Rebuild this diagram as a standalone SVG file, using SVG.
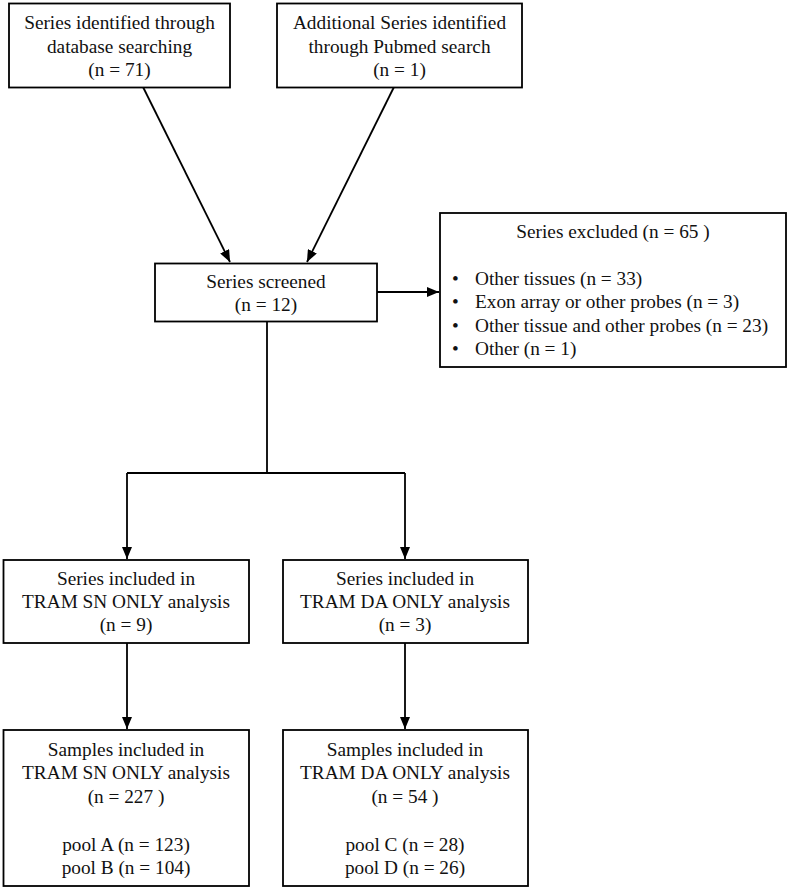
<svg xmlns="http://www.w3.org/2000/svg" width="789" height="889" viewBox="0 0 789 889">
<style>
.box{fill:#fff;stroke:#000;stroke-width:1.8}
.t{font-family:'Liberation Serif','Tinos','Times New Roman','DejaVu Serif',serif;font-size:19.3px;fill:#111;text-anchor:middle}
.l{text-anchor:start}
.c{fill:none;stroke:#000;stroke-width:1.8}
</style>
<defs>
<marker id="ah" markerUnits="userSpaceOnUse" markerWidth="12" markerHeight="10" refX="12" refY="5" orient="auto">
<path d="M0,0 L12,5 L0,10 z" fill="#000"/>
</marker>
</defs>
<rect width="789" height="889" fill="#fff"/>
<g id="connectors">
<line class="c" x1="143" y1="87" x2="230" y2="262" marker-end="url(#ah)"/>
<line class="c" x1="394" y1="87" x2="307" y2="262" marker-end="url(#ah)"/>
<line class="c" x1="377" y1="292" x2="439" y2="292" marker-end="url(#ah)"/>
<polyline class="c" points="267,322 267,473"/>
<polyline class="c" points="127,473 405,473"/>
<line class="c" x1="127" y1="473" x2="127" y2="559" marker-end="url(#ah)"/>
<line class="c" x1="405" y1="473" x2="405" y2="559" marker-end="url(#ah)"/>
<line class="c" x1="127" y1="643" x2="127" y2="729" marker-end="url(#ah)"/>
<line class="c" x1="405" y1="643" x2="405" y2="729" marker-end="url(#ah)"/>
</g>
<g id="db">
<rect class="box" x="9" y="3.5" width="221" height="84"/>
<text class="t" x="119.5" y="29">Series identified through</text>
<text class="t" x="119.5" y="53">database searching</text>
<text class="t" x="119.5" y="76">(n = 71)</text>
</g>
<g id="pubmed">
<rect class="box" x="277" y="3.5" width="245" height="84"/>
<text class="t" x="399.5" y="29">Additional Series identified</text>
<text class="t" x="399.5" y="53">through Pubmed search</text>
<text class="t" x="399.5" y="76">(n = 1)</text>
</g>
<g id="screened">
<rect class="box" x="155" y="263.5" width="222" height="58"/>
<text class="t" x="266" y="288">Series screened</text>
<text class="t" x="266" y="311">(n = 12)</text>
</g>
<g id="excluded">
<rect class="box" x="440" y="213" width="346" height="154"/>
<text class="t" x="613" y="238">Series excluded (n = 65 )</text>
<text class="t l" x="452" y="285">•</text>
<text class="t l" x="475" y="285">Other tissues (n = 33)</text>
<text class="t l" x="452" y="308">•</text>
<text class="t l" x="475" y="308">Exon array or other probes (n = 3)</text>
<text class="t l" x="452" y="332">•</text>
<text class="t l" x="475" y="332">Other tissue and other probes (n = 23)</text>
<text class="t l" x="452" y="355">•</text>
<text class="t l" x="475" y="355">Other (n = 1)</text>
</g>
<g id="sn-series">
<rect class="box" x="3.5" y="560" width="245.5" height="83"/>
<text class="t" x="126" y="585">Series included in</text>
<text class="t" x="126" y="608">TRAM SN ONLY analysis</text>
<text class="t" x="126" y="631">(n = 9)</text>
</g>
<g id="da-series">
<rect class="box" x="283" y="560" width="245" height="83"/>
<text class="t" x="405" y="585">Series included in</text>
<text class="t" x="405" y="608">TRAM DA ONLY analysis</text>
<text class="t" x="405" y="631">(n = 3)</text>
</g>
<g id="sn-samples">
<rect class="box" x="3.5" y="730" width="245.5" height="156"/>
<text class="t" x="126" y="756">Samples included in</text>
<text class="t" x="126" y="779">TRAM SN ONLY analysis</text>
<text class="t" x="126" y="803">(n = 227 )</text>
<text class="t" x="126" y="851">pool A (n = 123)</text>
<text class="t" x="126" y="874">pool B (n = 104)</text>
</g>
<g id="da-samples">
<rect class="box" x="283" y="730" width="245" height="156"/>
<text class="t" x="405" y="756">Samples included in</text>
<text class="t" x="405" y="779">TRAM DA ONLY analysis</text>
<text class="t" x="405" y="803">(n = 54 )</text>
<text class="t" x="405" y="851">pool C (n = 28)</text>
<text class="t" x="405" y="874">pool D (n = 26)</text>
</g>
</svg>
